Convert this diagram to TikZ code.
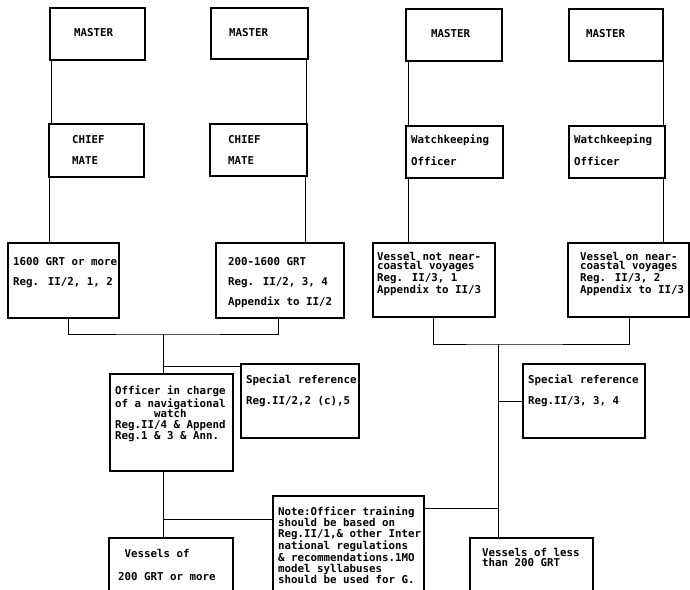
\documentclass[tikz,border=0pt]{standalone}
\usepackage{fontspec}
\newfontfamily\dotfont{DejaVu Sans Mono}[BoldFont={DejaVu Sans Mono Bold}]

\begin{document}
\begin{tikzpicture}[x=1pt, y=-1pt,
      box/.style = {draw, line width=2.2pt, anchor=north west, inner sep=0pt},
      lbl/.style = {anchor=north west, inner sep=0pt, align=left,
        font=\dotfont\bfseries\fontsize{10.8}{#1}\selectfont},
      lbl/.default = 21,
      link/.style = {line width=0.9pt}]
  \useasboundingbox (0,0) rectangle (690,589);
  \clip (0,0) rectangle (690,589);

  % top row
  \node[box, minimum width=95pt, minimum height=52pt] (m1) at (49,7) {};
  \node[box, minimum width=97pt, minimum height=51pt] (m2) at (210,7) {};
  \node[box, minimum width=96pt, minimum height=52pt] (m3) at (405,8) {};
  \node[box, minimum width=94pt, minimum height=52pt] (m4) at (568,8) {};
  \node[lbl] (m1t) at (74,28) {MASTER};
  \node[lbl] (m2t) at (229,28) {MASTER};
  \node[lbl] (m3t) at (431,29) {MASTER};
  \node[lbl] (m4t) at (586,29) {MASTER};

  % second row
  \node[box, minimum width=95pt, minimum height=53pt] (c1) at (48,123) {};
  \node[box, minimum width=97pt, minimum height=52pt] (c2) at (209,123) {};
  \node[box, minimum width=97pt, minimum height=52pt] (w3) at (405,125) {};
  \node[box, minimum width=96pt, minimum height=52pt] (w4) at (568,125) {};
  \node[lbl] (c1t) at (72,135) {CHIEF\\MATE};
  \node[lbl] (c2t) at (228,135) {CHIEF\\MATE};
  \node[lbl=22] (w3t) at (411,135) {Watchkeeping\\Officer};
  \node[lbl=22] (w4t) at (574,135) {Watchkeeping\\Officer};

  % third row
  \node[box, minimum width=111pt, minimum height=75pt] (g1) at (7,242) {};
  \node[box, minimum width=128pt, minimum height=75pt] (g2) at (215,242) {};
  \node[box, minimum width=122pt, minimum height=74pt] (v3) at (372,242) {};
  \node[box, minimum width=121pt, minimum height=74pt] (v4) at (567,242) {};
  \node[lbl=20] (g1t) at (13,257) {1600 GRT or more\\Reg. II/2, 1, 2};
  \node[lbl=20] (g2t) at (228,257) {200-1600 GRT\\Reg. II/2, 3, 4\\Appendix to II/2};
  \node[lbl=9.5] (v3t) at (377,252)
    {Vessel not near-\\coastal voyages\\Reg. II/3, 1\\Appendix to II/3};
  \node[lbl=9.5] (v4t) at (580,252)
    {Vessel on near-\\coastal voyages\\Reg. II/3, 2\\Appendix to II/3};

  % officer and special references
  \node[box, minimum width=123pt, minimum height=97pt] (o) at (109,373) {};
  \node[box, minimum width=118pt, minimum height=74pt] (s1) at (240,363) {};
  \node[box, minimum width=122pt, minimum height=74pt] (s2) at (522,363) {};
  \node[lbl=10.8] (ot) at (115,386) {Officer in charge\\of a navigational\\
    \phantom{000000}watch\\Reg.II/4 \& Append\\Reg.1 \& 3 \& Ann.};
  \node[lbl] (s1t) at (246,375) {Special reference\\Reg.II/2,2 (c),5};
  \node[lbl] (s2t) at (528,375) {Special reference\\Reg.II/3, 3, 4};

  % bottom row
  \node[box, minimum width=151pt, minimum height=110pt] (n) at (272,495) {};
  \node[box, minimum width=124pt, minimum height=70pt] (f1) at (108,537) {};
  \node[box, minimum width=123pt, minimum height=70pt] (f2) at (469,537) {};
  \node[lbl=10.9] (nt) at (278,507) {Note:Officer training\\should be based on\\
    Reg.II/1,\& other Inter\\national regulations\\\& recommendations.1MO\\
    model syllabuses\\should be used for G.};
  \node[lbl=23] (f1t) at (118,549) {\phantom{0}Vessels of\\200 GRT or more};
  \node[lbl=10] (f2t) at (482,548) {Vessels of less\\than 200 GRT};

  % connectors
  \draw[link] ([xshift=2pt]m1.south west) coordinate (a1) -- (a1 |- c1.north);
  \draw[link] ([xshift=-3pt]m2.south east) coordinate (a2) -- (a2 |- c2.north);
  \draw[link] ([xshift=3pt]m3.south west) coordinate (a3) -- (a3 |- w3.north);
  \draw[link] ([xshift=-1pt]m4.south east) coordinate (a4) -- (a4 |- w4.north);
  \draw[link] ([xshift=1pt]c1.south west) coordinate (b1) -- (b1 |- g1.north);
  \draw[link] ([xshift=-3pt]c2.south east) coordinate (b2) -- (b2 |- g2.north);
  \draw[link] ([xshift=3pt]w3.south west) coordinate (b3) -- (b3 |- v3.north);
  \draw[link] ([xshift=-3pt]w4.south east) coordinate (b4) -- (b4 |- v4.north);

  \coordinate (j1) at (163,334);
  \coordinate (j2) at (498,344);
  \draw[link] ([xshift=61pt]g1.south west) |- (j1) -| ([xshift=-67pt]g2.south east);
  \draw[link] (j1) -- (o.north -| j1);
  \draw[link] (o.south -| j1) -- (f1.north -| j1);
  \coordinate (s1a) at ([yshift=-3pt]s1.north west);
  \draw[link] (s1a -| j1) -- (s1a);
  \coordinate (na) at ([yshift=-24pt]n.north west);
  \draw[link] (na -| j1) -- (na);

  \draw[link] ([xshift=61pt]v3.south west) |- (j2) -| ([xshift=62pt]v4.south west);
  \draw[link] (j2) -- (f2.north -| j2);
  \draw[link] (s2.west -| j2) -- (s2.west);
  \coordinate (nb) at ([yshift=-13pt]n.north east);
  \draw[link] (nb) -- (nb -| j2);
\end{tikzpicture}
\end{document}
